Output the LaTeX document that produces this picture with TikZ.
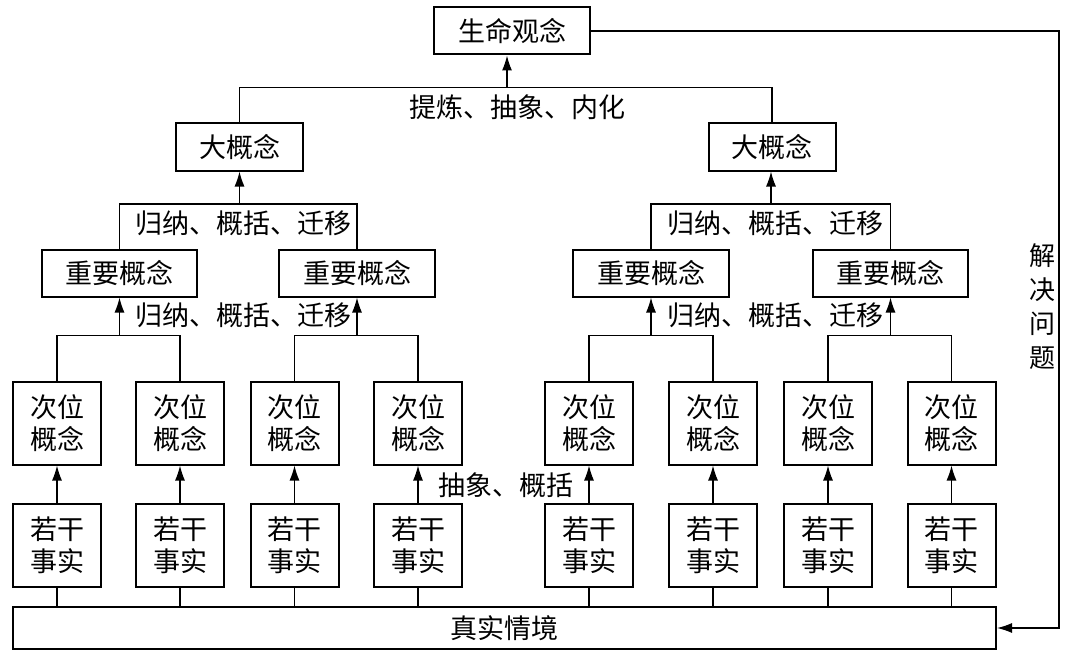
\documentclass[tikz,border=0pt]{standalone}
\usepackage{fontspec}
\setmainfont{Noto Sans CJK SC}
\usetikzlibrary{arrows.meta}
\begin{document}
\begin{tikzpicture}[x=1bp,y=-1bp,
  font=\fontsize{27bp}{32bp}\selectfont,
  box/.style={draw, line width=2bp, inner sep=0pt, align=center},
  topbox/.style={box, minimum width=156bp, minimum height=47bp},
  bigbox/.style={box, minimum width=127bp, minimum height=47bp},
  impbox/.style={box, minimum width=155.5bp, minimum height=47bp},
  subbox/.style={box, minimum width=88bp, minimum height=83bp},
  sitbox/.style={box, minimum width=983bp, minimum height=42bp},
  conn/.style={line width=1.2bp},
  arr/.style={line width=1.2bp, -{Latex[length=15bp,width=10bp]}},
  lab/.style={inner sep=0pt}
]
\useasboundingbox (0,0) rectangle (1065,651);

\node[topbox] (top) at (512,31) {生命观念};
\node[bigbox] (b1) at (239.5,147) {大概念};
\node[bigbox] (b2) at (772,147) {大概念};
\node[impbox] (i1) at (119.5,273) {重要概念};
\node[impbox] (i2) at (357,273) {重要概念};
\node[impbox] (i3) at (651,273) {重要概念};
\node[impbox] (i4) at (890.5,273) {重要概念};
\foreach \x [count=\i] in {57,180,294.5,418,589,713,828,951.5}{
  \node[subbox] (s\i) at (\x,423) {次位\\概念};
  \node[subbox] (f\i) at (\x,545) {若干\\事实};
}
\node[sitbox] (sit) at (504.5,628) {真实情境};

% top level
\coordinate (tj) at (507,87.7);
\draw[conn] (b1.north) |- (tj) -| (b2.north);
\draw[arr] (tj) -- (tj |- top.south);

% big concepts
\coordinate (j1) at (239.5,204);
\coordinate (j2) at (771,204);
\draw[conn] (i1.north) |- (j1) -| (i2.north);
\draw[arr] (j1) -- (j1 |- b1.south);
\draw[conn] (i3.north) |- (j2) -| (i4.north);
\draw[arr] (j2) -- (j2 |- b2.south);

% important concepts
\coordinate (k1) at (119.5,335.7);
\coordinate (k2) at (357,335.7);
\coordinate (k3) at (651,335.7);
\coordinate (k4) at (890.5,335.7);
\draw[conn] (s1.north) |- (k1) -| (s2.north);
\draw[conn] (s3.north) |- (k2) -| (s4.north);
\draw[conn] (s5.north) |- (k3) -| (s6.north);
\draw[conn] (s7.north) |- (k4) -| (s8.north);
\draw[arr] (k1) -- (i1.south);
\draw[arr] (k2) -- (i2.south);
\draw[arr] (k3) -- (i3.south);
\draw[arr] (k4) -- (i4.south);

% facts to sub concepts, and situation
\foreach \i in {1,...,8}{
  \draw[arr] (f\i.north) -- (s\i.south);
  \draw[conn] (f\i.south) -- (f\i.south |- sit.north);
}

% feedback
\coordinate (fb) at (1059,0);
\draw[arr] (top.east) -| (fb |- sit.east) -- (sit.east);

% labels
\node[lab] (l1) at (517,107) {提炼、抽象、内化};
\node[lab] (l2) at (243.5,223) {归纳、概括、迁移};
\node[lab] (l3) at (775.5,223) {归纳、概括、迁移};
\node[lab] (l4) at (243.5,315) {归纳、概括、迁移};
\node[lab] (l5) at (775.5,315) {归纳、概括、迁移};
\node[lab] (l6) at (506,485) {抽象、概括};
\node[lab, align=center, font=\fontsize{26bp}{34bp}\selectfont] (l7) at (1042,307) {解\\决\\问\\题};
\end{tikzpicture}
\end{document}
